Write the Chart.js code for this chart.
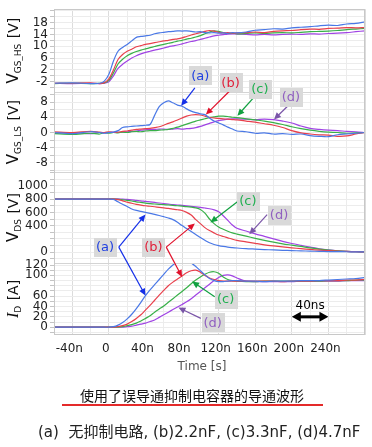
<!DOCTYPE html>
<html>
<head>
<meta charset="utf-8">
<script src="https://cdn.jsdelivr.net/npm/chart.js@4"></script>
<style>
  html, body { margin: 0; padding: 0; background: #fff; }
  #wrap { position: relative; width: 372px; height: 447px; overflow: hidden; }
  #c { position: absolute; left: 0; top: 0; }
  .txt { position: absolute; white-space: nowrap; font-family: "DejaVu Sans", "Noto Sans CJK SC", sans-serif; }
</style>
</head>
<body>
<div id="wrap">
  <canvas id="c" width="372" height="447"></canvas>
  <div class="txt" style="left:152px;width:100px;text-align:center;top:359px;font-size:12px;color:#555;">Time [s]</div>
  <div class="txt" style="left:80px;top:385px;font-size:14px;line-height:20px;color:#111;font-family:'Noto Sans CJK SC',sans-serif;">使用了误导通抑制电容器的导通波形</div>
  <div style="position:absolute;left:62px;top:404px;width:261px;height:2px;background:#e42a2a;"></div>
  <div class="txt" style="left:38px;top:422px;font-size:15px;line-height:21px;color:#222;">(a)&nbsp;&nbsp;无抑制电路, (b)2.2nF, (c)3.3nF, (d)4.7nF</div>
</div>
<script>
// time axis, ns
const T = [-60,-40,-20,-10,-5,
  0,5,10,15,20,25,30,35,40,45,50,55,60,65,70,75,80,85,90,95,100,105,110,115,120,125,130,135,140,
  150,160,170,180,190,200,210,220,230,240,250,260,270,280];

// VGS_HS [V]
const hsA = [-2.5,-2.4,-2.6,-2.5,-1.8,
  0.5,5,8.3,9.6,10.6,11.8,13,13.3,13.5,13.7,14.2,14.5,14.7,14.9,15,15.2,15.1,15.2,15,14.8,14.9,14.6,14.5,14.6,14.4,14.5,14.3,14.6,14.5,
  14.8,15.4,15.6,15.9,15.8,16.2,16.4,16.6,16.9,17.1,17.0,17.5,17.7,18.2];
const hsB = [-2.5,-2.5,-2.4,-2.6,-2.3,
  -1,2,5.5,7.2,8.3,9.0,9.8,10.2,10.6,10.9,11.2,11.5,11.8,12.0,12.3,12.5,12.8,13.3,13.8,14.2,14.6,15.0,15.3,15.1,14.7,14.5,14.6,14.4,14.5,
  14.6,14.8,14.6,15.0,15.2,15.3,15.6,15.8,15.7,16.0,16.1,16.3,16.2,16.3];
const hsC = [-2.6,-2.5,-2.6,-2.5,-2.4,
  -1.5,1,4,5.6,6.8,7.6,8.2,8.7,9.1,9.5,9.9,10.3,10.6,11.0,11.3,11.7,12.0,12.4,12.7,13.1,13.6,14.2,14.8,15.2,15.0,14.6,14.3,14.4,14.2,
  14.3,14.5,14.3,14.5,14.6,14.5,14.7,14.9,15.0,15.1,15.3,15.6,15.8,16.0];
const hsD = [-2.5,-2.6,-2.5,-2.6,-2.5,
  -2,0,2.5,3.9,5.0,6.0,6.8,7.4,7.9,8.3,8.7,9.0,9.4,9.8,10.1,10.4,10.8,11.2,11.6,11.9,12.3,12.7,13.1,13.5,13.7,13.9,14.1,14.2,14.1,
  14.0,13.8,14.0,13.8,14.0,14.1,14.0,14.2,14.1,14.3,14.4,14.6,14.9,15.2];

// VGS_LS [V]
const lsA = [0,-0.3,0.2,0,-0.2,
  0,0.1,0.5,1.3,1.5,1.6,1.7,1.8,1.9,2.1,4.5,6.8,7.8,8.3,7.8,7.2,6.9,6.2,5.6,5.2,4.9,4.7,3.8,3.0,2.5,2.0,1.4,0.9,0.4,
  0.2,-0.2,-0.1,-0.4,-0.3,-0.5,-0.4,-0.8,-1.0,-1.1,-0.6,-0.4,-0.2,0];
const lsB = [0.2,0,0.3,0.1,0,
  0.2,0,0.1,0.3,0.4,0.6,0.8,0.9,1.0,1.1,1.3,1.5,1.9,2.4,2.8,3.3,3.8,4.3,4.6,4.7,4.6,4.3,4.0,3.8,3.7,3.6,3.5,3.4,3.3,
  3.0,2.7,2.3,1.9,1.3,0.5,-0.1,-0.4,-0.6,-0.7,-1.0,-0.9,-0.4,0];
const lsC = [-0.3,-0.5,-0.2,-0.4,0,
  -0.2,0,-0.1,0.1,0,0.2,0.3,0.2,0.4,0.5,0.5,0.6,0.7,0.8,1.1,1.4,1.8,2.2,2.6,3.0,3.3,3.6,3.9,4.1,4.3,4.3,4.2,4.0,3.9,
  3.6,3.3,3.0,2.6,2.1,1.5,1.0,0.6,0.3,0.1,0,-0.2,-0.1,0];
const lsD = [-0.2,0,-0.3,0,-0.1,
  0,0.1,0,0.1,0.2,0.3,0.4,0.6,0.7,0.8,0.8,0.9,0.9,0.8,0.9,1.0,0.9,1.0,1.1,1.3,1.6,2.0,2.4,2.8,3.1,3.3,3.5,3.6,3.6,
  3.5,3.4,3.5,3.4,3.0,2.5,1.7,1.1,0.8,0.6,0.5,0.3,0.2,0];

// VDS [V]
const dsA = [800,800,800,800,800,
  800,795,760,722,690,652,630,615,600,585,570,553,535,515,490,450,400,355,310,265,220,178,140,115,98,85,75,68,62,
  52,45,38,32,27,22,18,14,11,8,6,5,3,2];
const dsB = [800,800,800,800,800,
  800,800,792,775,755,738,722,710,700,693,685,676,668,660,650,640,628,600,560,490,430,370,325,290,258,235,215,195,178,
  155,132,110,93,78,64,52,40,30,22,16,10,6,3];
const dsC = [800,800,800,800,800,
  800,800,798,790,782,772,760,750,740,733,727,722,717,712,706,700,694,688,680,668,645,590,500,430,380,345,315,290,272,
  240,208,178,150,125,105,85,63,45,30,20,12,6,3];
const dsD = [805,805,805,805,805,
  805,805,803,800,796,790,782,775,766,758,750,742,734,726,718,712,705,699,692,684,675,666,655,638,610,550,480,410,360,
  318,275,238,200,162,130,102,75,50,32,18,10,5,2];

// ID [A]
const idA = [0,0,0,0,0,
  0,1,4,9,16,25,36,48,61,72,82,92,102,112,120,126,129,128,124,117,109,101,94,90,88,88,89,90,90,
  89,89,88,89,89,89,90,90,90,91,92,93,94,96];
const idB = [0,0,0,0,0,
  0,0,1,3,6,11,17,24,33,42,52,62,71,80,87,93,99,105,109,110,106,100,95,92,90,89,89,89,89,
  89,89,89,89,88,89,89,89,90,90,90,91,91,92];
const idC = [0,0,0,0,0,
  0,0,0,1,3,5,8,12,17,22,29,35,41,48,55,62,69,76,84,91,97,102,106,107,104,97,92,90,89,
  88,88,89,89,89,89,89,89,89,90,90,90,91,91];
const idD = [0,0,0,0,0,
  0,0,0,0,1,2,4,6,8,11,14,19,24,29,34,39,44,49,55,62,69,76,83,90,96,100,101,99,95,
  89,88,88,88,88,88,89,89,89,89,89,90,90,90];

// tick labels shown on each panel
const xLabels = [-40, 0, 40, 80, 120, 160, 200, 240];
const hsTicks = [18, 14, 10, 6, 2, -2];
const lsTicks = [8, 4, 0, -4, -8];
const dsTicks = [1000, 800, 600, 400, 0];
const idTicks = [120, 100, 60, 40, 20, 0];

const lineColors = ['#4a78e6', '#e8404c', '#38b048', '#a044e4'];
const tagColors  = ['#2040e0', '#e0203a', '#20b050', '#9060c0'];
const arrowColors = ['#1530e8', '#e0102a', '#10a040', '#7a55a8'];

const panels = [
  { id: 'y1', data: [hsA, hsB, hsC, hsD] },
  { id: 'y2', data: [lsA, lsB, lsC, lsD] },
  { id: 'y3', data: [dsA, dsB, dsC, dsD] },
  { id: 'y4', data: [idA, idB, idC, idD] }
];

const datasets = [];
panels.forEach(p => {
  p.data.forEach((arr, k) => {
    datasets.push({
      yAxisID: p.id,
      data: T.map((t, i) => ({ x: t, y: arr[i] })),
      borderColor: lineColors[k],
      borderWidth: 1.2,
      pointRadius: 0,
      tension: 0.3,
      fill: false
    });
  });
});

function yAxis(min, max, step, shown, weight) {
  return {
    type: 'linear',
    position: 'left',
    stack: 'panels',
    stackWeight: weight,
    min: min,
    max: max,
    border: { display: false },
    grid: { color: '#ececec', tickLength: 4, tickColor: '#c4c4c4' },
    ticks: {
      autoSkip: false,
      padding: 2,
      color: '#222',
      font: { family: 'DejaVu Sans', size: 12 },
      callback: v => shown.includes(v) ? String(v) : ''
    },
    afterBuildTicks: s => {
      const out = [];
      for (let v = Math.ceil(min / step) * step; v <= max; v += step) out.push({ value: Math.round(v * 100) / 100 });
      s.ticks = out;
    },
    afterFit: s => { s.width = 54; }
  };
}

// label tags and arrows, anchored in data units
const tags = [
  { k: 0, axis: 'y2', at: [100, 15.0], arrows: [[94, 11.7, 79, 7.0, 'y2']] },
  { k: 1, axis: 'y2', at: [133, 13.2], arrows: [[132, 10.9, 106, 4.7, 'y2']] },
  { k: 2, axis: 'y2', at: [165, 11.4], arrows: [[160, 9.6, 140.5, 4.4, 'y2']] },
  { k: 3, axis: 'y2', at: [199, 9.3], arrows: [[197, 7.3, 180.5, 3.4, 'y2']] },
  { k: 0, axis: 'y3', at: [-4.3, 75], arrows: [[10.8, 75, 40, 567, 'y3'], [10.8, 75, 40, 61, 'y4']] },
  { k: 1, axis: 'y3', at: [48.6, 75], arrows: [[62.7, 75, 94, 433, 'y3'], [62.7, 75, 80, 97, 'y4']] },
  { k: 2, axis: 'y3', at: [152, 776], arrows: [[140.5, 761, 111, 448, 'y3']] },
  { k: 3, axis: 'y3', at: [186, 567], arrows: [[173, 567, 153.5, 269, 'y3']] },
  { k: 2, axis: 'y4', at: [127.6, 55], arrows: [[115.7, 59, 91, 88, 'y4']] },
  { k: 3, axis: 'y4', at: [113.5, 9.5], arrows: [[100.5, 17, 76, 38, 'y4']] }
];
const tagText = ['(a)', '(b)', '(c)', '(d)'];

function head(ctx, x1, y1, x2, y2, len, half) {
  const a = Math.atan2(y2 - y1, x2 - x1);
  ctx.beginPath();
  ctx.moveTo(x2, y2);
  ctx.lineTo(x2 - len * Math.cos(a) + half * Math.sin(a), y2 - len * Math.sin(a) - half * Math.cos(a));
  ctx.lineTo(x2 - len * Math.cos(a) - half * Math.sin(a), y2 - len * Math.sin(a) + half * Math.cos(a));
  ctx.closePath();
  ctx.fill();
}

const overlay = {
  id: 'overlay',
  afterDatasetsDraw(chart) {
    const { ctx, scales, chartArea: a } = chart;
    const X = v => scales.x.getPixelForValue(v);
    const Y = (id, v) => scales[id].getPixelForValue(v);
    ctx.save();
    // frame and panel separators
    ctx.strokeStyle = '#d4d4d4';
    ctx.lineWidth = 1;
    ['y1', 'y2', 'y3'].forEach(id => {
      const y = Math.round(scales[id].bottom) + 0.5;
      ctx.beginPath(); ctx.moveTo(a.left, y); ctx.lineTo(a.right, y); ctx.stroke();
    });
    ctx.strokeStyle = '#c8c8c8';
    ctx.strokeRect(Math.round(a.left) + 0.5, Math.round(a.top) + 0.5, Math.round(a.width) - 1, Math.round(a.height) - 1);

    // arrows
    tags.forEach(t => {
      t.arrows.forEach(r => {
        const x1 = X(r[0]), y1 = Y(t.axis, r[1]), x2 = X(r[2]), y2 = Y(r[4], r[3]);
        ctx.strokeStyle = arrowColors[t.k];
        ctx.fillStyle = arrowColors[t.k];
        ctx.lineWidth = 1.2;
        const ang = Math.atan2(y2 - y1, x2 - x1);
        ctx.beginPath(); ctx.moveTo(x1, y1); ctx.lineTo(x2 - 5 * Math.cos(ang), y2 - 5 * Math.sin(ang)); ctx.stroke();
        head(ctx, x1, y1, x2, y2, 7, 3.2);
      });
    });
    // tag boxes
    ctx.font = '13px "DejaVu Sans"';
    ctx.textAlign = 'center';
    ctx.textBaseline = 'middle';
    tags.forEach(t => {
      const cx = X(t.at[0]), cy = Y(t.axis, t.at[1]);
      ctx.fillStyle = '#d9d9d9';
      ctx.fillRect(Math.round(cx - 11), Math.round(cy - 9), 23, 19);
      ctx.fillStyle = tagColors[t.k];
      ctx.fillText(tagText[t.k], cx, cy + 1);
    });

    // 40ns scale arrow
    const sx1 = X(200), sx2 = X(240), sy = Y('y4', 20);
    ctx.strokeStyle = '#000'; ctx.fillStyle = '#000'; ctx.lineWidth = 3;
    ctx.beginPath(); ctx.moveTo(sx1 + 6, sy); ctx.lineTo(sx2 - 6, sy); ctx.stroke();
    head(ctx, sx2, sy, sx1, sy, 9, 5);
    head(ctx, sx1, sy, sx2, sy, 9, 5);
    ctx.font = '12px "DejaVu Sans"';
    ctx.fillText('40ns', (sx1 + sx2) / 2, sy - 11);
    ctx.restore();
  },
  afterDraw(chart) {
    const { ctx, scales } = chart;
    const titles = [
      { id: 'y1', main: 'V', sub: 'GS_HS', unit: ' [V]', italic: false },
      { id: 'y2', main: 'V', sub: 'GS_LS', unit: ' [V]', italic: false },
      { id: 'y3', main: 'V', sub: 'DS', unit: ' [V]', italic: false },
      { id: 'y4', main: 'I', sub: 'D', unit: ' [A]', italic: true }
    ];
    ctx.save();
    ctx.fillStyle = '#111';
    ctx.textBaseline = 'alphabetic';
    ctx.textAlign = 'left';
    titles.forEach(t => {
      const s = scales[t.id];
      const cy = (s.top + s.bottom) / 2;
      const fMain = t.italic ? 'italic 16px "Liberation Serif"' : '15px "DejaVu Sans"';
      const fSub = '9px "DejaVu Sans"';
      const fUnit = '14px "DejaVu Sans"';
      ctx.font = fMain; const w1 = ctx.measureText(t.main).width;
      ctx.font = fSub; const w2 = ctx.measureText(t.sub).width;
      ctx.font = fUnit; const w3 = ctx.measureText(t.unit).width;
      const tot = w1 + w2 + w3 + 1;
      ctx.translate(18, cy);
      ctx.rotate(-Math.PI / 2);
      let x = -tot / 2;
      ctx.font = fMain; ctx.fillText(t.main, x, 0); x += w1;
      ctx.font = fSub; ctx.fillText(t.sub, x, 3); x += w2 + 1;
      ctx.font = fUnit; ctx.fillText(t.unit, x, 0);
      ctx.setTransform(1, 0, 0, 1, 0, 0);
    });
    ctx.restore();
  }
};

new Chart(document.getElementById('c'), {
  type: 'line',
  data: { datasets: datasets },
  options: {
    responsive: false,
    animation: false,
    devicePixelRatio: 1,
    layout: { padding: { left: 0, right: 4, top: 5, bottom: 92 } },
    plugins: { legend: { display: false }, tooltip: { enabled: false } },
    scales: {
      x: {
        type: 'linear',
        min: -60,
        max: 280,
        border: { display: false },
        grid: {
          color: c => (c.tick && c.tick.value % 40 === 0) ? '#dcdcdc' : '#ececec',
          drawTicks: false
        },
        ticks: {
          autoSkip: false,
          padding: 7,
          labelOffset: -3,
          maxRotation: 0,
          color: '#222',
          font: { family: 'DejaVu Sans', size: 12 },
          callback: v => xLabels.includes(v) ? (v === 0 ? '0' : v + 'n') : ''
        },
        afterBuildTicks: s => {
          const out = [];
          for (let v = -60; v <= 280; v += 20) out.push({ value: v });
          s.ticks = out;
        },
        afterFit: s => { s.height = 20; }
      },
      // stacked from the bottom up
      y4: yAxis(-15, 124, 10, idTicks, 73),
      y3: yAxis(-164, 1209, 100, dsTicks, 92),
      y2: yAxis(-10.4, 10.6, 2, lsTicks, 81),
      y1: yAxis(-5.5, 22.5, 2, hsTicks, 84)
    }
  },
  plugins: [overlay]
});
</script>
</body>
</html>
